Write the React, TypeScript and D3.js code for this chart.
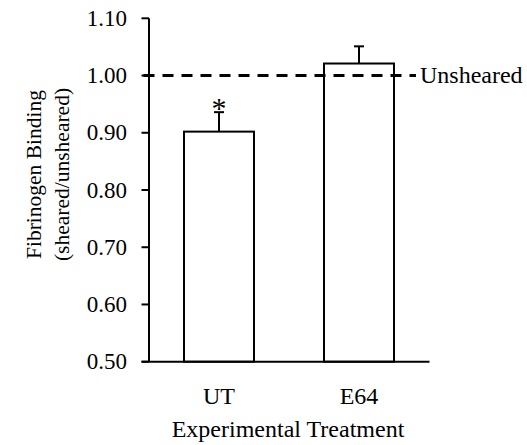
import React from "react";
import * as d3 from "d3";

const categories = ["UT", "E64"];
const values = [0.902, 1.021];
const errors = [0.034, 0.03];
const significance = ["*", ""];
const yTicks = [0.5, 0.6, 0.7, 0.8, 0.9, 1.0, 1.1];
const referenceValue = 1.0;
const referenceLabel = "Unsheared";
const xTitle = "Experimental Treatment";
const yTitleLines = ["Fibrinogen Binding", "(sheared/unsheared)"];

const W = 527;
const H = 445;
const FONT = "'Liberation Serif', 'Times New Roman', Times, serif";
const txt = { fontFamily: FONT, fill: "#000" };

export default function App() {
  const y = d3.scaleLinear().domain([0.5, 1.1]).range([361.7, 18.3]);
  const x = d3
    .scaleBand<string>()
    .domain(categories)
    .range([149, 429])
    .paddingInner(0.5)
    .paddingOuter(0.25);
  const axisX = 149;
  const bw = x.bandwidth();

  return (
    <svg
      width={W}
      height={H}
      style={{ position: "absolute", left: 0, top: 0, background: "#fff", fontFamily: FONT }}
    >
      {categories.map((c, i) => {
        const x0 = x(c)!;
        const cx = x0 + bw / 2;
        const top = y(values[i]);
        const eTop = y(values[i] + errors[i]);
        return (
          <g key={c}>
            <rect
              x={x0}
              y={top}
              width={bw}
              height={y(0.5) - top}
              fill="#fff"
              stroke="#000"
              strokeWidth={2}
            />
            <line x1={cx} x2={cx} y1={top} y2={eTop} stroke="#000" strokeWidth={2} />
            <line x1={cx - 5} x2={cx + 5} y1={eTop} y2={eTop} stroke="#000" strokeWidth={2} />
            {significance[i] && (
              <text x={cx} y={eTop + 6} textAnchor="middle" fontSize={30} style={txt}>
                {significance[i]}
              </text>
            )}
          </g>
        );
      })}

      <line
        x1={143.5}
        x2={416}
        y1={y(referenceValue)}
        y2={y(referenceValue)}
        stroke="#000"
        strokeWidth={3}
        strokeDasharray="11,8"
      />
      <text x={420} y={y(referenceValue) + 7.5} fontSize={24} style={txt}>
        {referenceLabel}
      </text>

      <line x1={axisX} x2={axisX} y1={y(1.1)} y2={y(0.5)} stroke="#000" strokeWidth={2} />
      {yTicks.map((t) => (
        <g key={t}>
          <line x1={141.5} x2={axisX} y1={y(t)} y2={y(t)} stroke="#000" strokeWidth={2} />
          <text x={127} y={y(t)} dy="0.33em" textAnchor="end" fontSize={23} style={txt}>
            {t.toFixed(2)}
          </text>
        </g>
      ))}

      <line x1={141.5} x2={429.5} y1={y(0.5)} y2={y(0.5)} stroke="#000" strokeWidth={2} />
      {categories.map((c) => (
        <text key={c} x={x(c)! + bw / 2} y={403.5} textAnchor="middle" fontSize={24} style={txt}>
          {c}
        </text>
      ))}
      <text x={288} y={437} textAnchor="middle" fontSize={24} style={txt}>
        {xTitle}
      </text>

      {yTitleLines.map((l, i) => (
        <text
          key={l}
          transform={`translate(${i === 0 ? 41 : 69},174.5) rotate(-90)`}
          textAnchor="middle"
          fontSize={21.5}
          style={txt}
        >
          {l}
        </text>
      ))}
    </svg>
  );
}
